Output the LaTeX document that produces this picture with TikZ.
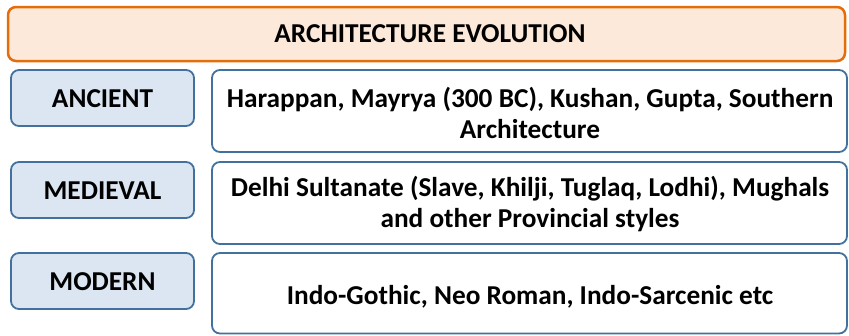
\documentclass[tikz,border=0pt]{standalone}
\usepackage{fontspec}
\setmainfont{Carlito}
\definecolor{orangeB}{HTML}{E46C0A}
\definecolor{peach}{HTML}{FDE9D9}
\definecolor{blueB}{HTML}{41719C}
\definecolor{lblue}{HTML}{DCE6F2}
\tikzset{
  titlebox/.style={draw=orangeB, line width=2.5pt, fill=peach, rounded corners=8pt},
  erabox/.style={draw=blueB, line width=1.8pt, fill=lblue, rounded corners=8pt},
  descbox/.style={draw=blueB, line width=1.8pt, fill=white, rounded corners=8pt},
  lbl/.style={font=\bfseries\fontsize{27.3}{31}\selectfont, align=center, text=black, inner sep=0pt}
}
\begin{document}
\begin{tikzpicture}[x=1pt,y=-1pt]
\useasboundingbox (0,0) rectangle (849,335);
% title
\draw[titlebox] (8,7) rectangle (845,61);
\node[lbl] (title) at (430,34) {ARCHITECTURE EVOLUTION};
% left boxes
\draw[erabox] (11,70) rectangle (194,126);
\node[lbl] (anc) at (102.5,99) {ANCIENT};
\draw[erabox] (11,162) rectangle (194,218);
\node[lbl] (med) at (102.5,191) {MEDIEVAL};
\draw[erabox] (11,253) rectangle (194,309);
\node[lbl] (mod) at (102.5,282) {MODERN};
% right boxes
\draw[descbox] (212,70) rectangle (847,152);
\node[lbl] (ancd) at (530,112.5) {Harappan, Mayrya (300 BC), Kushan, Gupta, Southern\\Architecture};
\draw[descbox] (212,162) rectangle (847,244);
\node[lbl] (medd) at (530,204) {Delhi Sultanate (Slave, Khilji, Tuglaq, Lodhi), Mughals\\and other Provincial styles};
\draw[descbox] (212,253) rectangle (847,333.5);
\node[lbl] (modd) at (530,297) {Indo-Gothic, Neo Roman, Indo-Sarcenic etc};
\end{tikzpicture}
\end{document}
